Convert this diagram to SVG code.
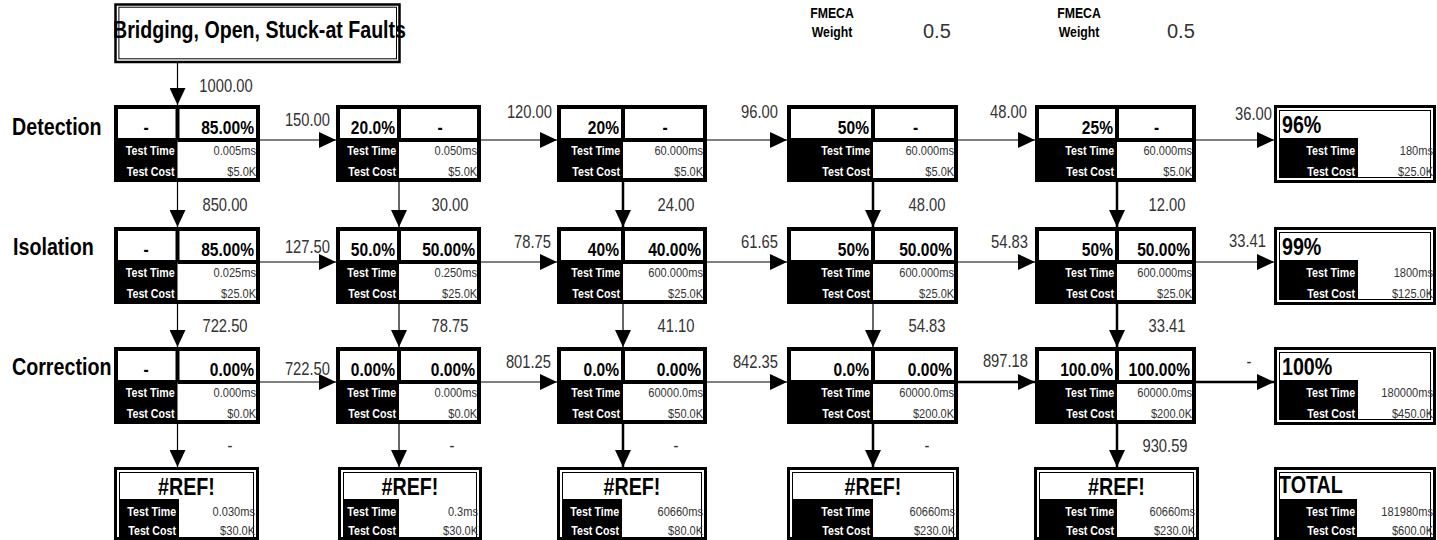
<svg xmlns="http://www.w3.org/2000/svg" width="1437" height="540" viewBox="0 0 1437 540">
<style>
text{font-family:"Liberation Sans",Arial,sans-serif;transform:scaleX(.82);transform-box:fill-box}
.s{text-anchor:start;transform-origin:left center}
.e{text-anchor:end;transform-origin:right center}
.m{text-anchor:middle;transform-origin:center}
.h{font-size:19px;font-weight:bold;fill:#000}
.lb{font-size:13px;font-weight:bold;fill:#fff}
.v{font-size:13.5px;fill:#333}
.cl{font-size:18px;fill:#333}
.big{font-size:24px;font-weight:bold;fill:#000}
.fw{font-size:15px;font-weight:bold;fill:#000}
.box{fill:#fff;stroke:#000;stroke-width:4}
.dv{stroke:#000;stroke-width:4}
.o{fill:#fff;stroke:#000;stroke-width:3}
.i{fill:none;stroke:#000;stroke-width:1}
.c{fill:none;stroke:#000;stroke-width:1.2;marker-end:url(#ah)}
.k{stroke-width:2.5}
</style>
<defs>
<marker id="ah" markerUnits="userSpaceOnUse" markerWidth="18" markerHeight="16" refX="17" refY="8" orient="auto"><path d="M0,0 L17,8 L0,16 z" fill="#000"/></marker>
</defs>
<rect width="1437" height="540" fill="#fff"/>

<g id="labels">
<text class="big s" x="12" y="135">Detection</text>
<text class="big s" x="13" y="255">Isolation</text>
<text class="big s" x="12" y="375">Correction</text>
<text class="fw m" x="832" y="18">FMECA</text>
<text class="fw m" x="832" y="37">Weight</text>
<text x="923" y="38" style="font-size:20px;fill:#333;transform:none">0.5</text>
<text class="fw m" x="1079" y="18">FMECA</text>
<text class="fw m" x="1079" y="37">Weight</text>
<text x="1167" y="38" style="font-size:20px;fill:#333;transform:none">0.5</text>
</g>

<g id="title">
<rect x="115.5" y="4.5" width="284" height="57.5" fill="#fff" stroke="#000" stroke-width="2.5"/>
<rect x="118.9" y="7.2" width="277.6" height="51.6" fill="none" stroke="#000" stroke-width="1"/>
<text x="113" y="37.5" textLength="293" lengthAdjust="spacingAndGlyphs" style="font-size:24px;font-weight:bold;transform:none">Bridging, Open, Stuck-at Faults</text>
</g>

<g id="connectors">
<line class="c" x1="177.5" y1="63" x2="177.5" y2="105"/>
<line class="c" x1="177.5" y1="182" x2="177.5" y2="227"/>
<line class="c" x1="399" y1="182" x2="399" y2="227"/>
<line class="c k" x1="623" y1="182" x2="623" y2="227"/>
<line class="c k" x1="873" y1="182" x2="873" y2="227"/>
<line class="c k" x1="1117" y1="182" x2="1117" y2="227"/>
<line class="c" x1="177.5" y1="304" x2="177.5" y2="347"/>
<line class="c" x1="399" y1="304" x2="399" y2="347"/>
<line class="c" x1="623" y1="304" x2="623" y2="347"/>
<line class="c" x1="873" y1="304" x2="873" y2="347"/>
<line class="c k" x1="1117" y1="304" x2="1117" y2="347"/>
<line class="c" x1="177.5" y1="424" x2="177.5" y2="467"/>
<line class="c" x1="399" y1="424" x2="399" y2="467"/>
<line class="c k" x1="623" y1="424" x2="623" y2="467"/>
<line class="c k" x1="873" y1="424" x2="873" y2="467"/>
<line class="c k" x1="1117" y1="424" x2="1117" y2="467"/>
<line class="c" x1="260" y1="140" x2="336" y2="140"/>
<line class="c" x1="481" y1="140" x2="557" y2="140"/>
<line class="c" x1="707" y1="140" x2="787" y2="140"/>
<line class="c" x1="958" y1="140" x2="1035" y2="140"/>
<line class="c" x1="1196" y1="140" x2="1274" y2="140"/>
<line class="c" x1="260" y1="262" x2="336" y2="262"/>
<line class="c" x1="481" y1="262" x2="557" y2="262"/>
<line class="c" x1="707" y1="262" x2="787" y2="262"/>
<line class="c" x1="958" y1="262" x2="1035" y2="262"/>
<line class="c" x1="1196" y1="262" x2="1274" y2="262"/>
<line class="c" x1="260" y1="382" x2="336" y2="382"/>
<line class="c" x1="481" y1="382" x2="557" y2="382"/>
<line class="c" x1="707" y1="382" x2="787" y2="382"/>
<line class="c k" x1="958" y1="382" x2="1035" y2="382"/>
<line class="c k" x1="1196" y1="382" x2="1274" y2="382"/>
<text class="cl m" x="226" y="92">1000.00</text>
<text class="cl m" x="225" y="211">850.00</text>
<text class="cl m" x="450" y="211">30.00</text>
<text class="cl m" x="676" y="211">24.00</text>
<text class="cl m" x="927" y="211">48.00</text>
<text class="cl m" x="1167" y="211">12.00</text>
<text class="cl m" x="225" y="332">722.50</text>
<text class="cl m" x="450" y="332">78.75</text>
<text class="cl m" x="676" y="332">41.10</text>
<text class="cl m" x="927" y="332">54.83</text>
<text class="cl m" x="1167" y="332">33.41</text>
<text class="cl m" x="230" y="452">-</text>
<text class="cl m" x="452" y="452">-</text>
<text class="cl m" x="676" y="452">-</text>
<text class="cl m" x="927" y="452">-</text>
<text class="cl m" x="1165" y="452">930.59</text>
<text class="cl e" x="330" y="126">150.00</text>
<text class="cl e" x="552" y="118">120.00</text>
<text class="cl e" x="778" y="118">96.00</text>
<text class="cl e" x="1027" y="118">48.00</text>
<text class="cl e" x="1272" y="120">36.00</text>
<text class="cl e" x="330" y="253">127.50</text>
<text class="cl e" x="551" y="248">78.75</text>
<text class="cl e" x="778" y="248">61.65</text>
<text class="cl e" x="1028" y="248">54.83</text>
<text class="cl e" x="1266" y="247">33.41</text>
<text class="cl e" x="330" y="375">722.50</text>
<text class="cl e" x="551" y="368">801.25</text>
<text class="cl e" x="778" y="368">842.35</text>
<text class="cl e" x="1028" y="367">897.18</text>
<text class="cl m" x="1249" y="368">-</text>
</g>

<!-- Detection row -->
<g id="det1">
<rect class="box" x="116" y="107" width="142" height="73"/>
<rect x="114" y="138" width="63.5" height="44"/>
<line class="dv" x1="177.5" y1="105" x2="177.5" y2="140"/><line class="dv" x1="177.5" y1="140" x2="260" y2="140"/>
<text class="h m" x="146" y="134">-</text><text class="h e" x="254" y="134">85.00%</text>
<text class="lb e" x="174.5" y="155">Test Time</text><text class="lb e" x="174.5" y="176">Test Cost</text>
<text class="v e" x="256" y="155">0.005ms</text><text class="v e" x="256" y="176">$5.0K</text>
</g>
<g id="det2">
<rect class="box" x="338" y="107" width="141" height="73"/>
<rect x="336" y="138" width="63" height="44"/>
<line class="dv" x1="399" y1="105" x2="399" y2="140"/><line class="dv" x1="399" y1="140" x2="481" y2="140"/>
<text class="h e" x="395" y="134">20.0%</text><text class="h m" x="440" y="134">-</text>
<text class="lb e" x="396" y="155">Test Time</text><text class="lb e" x="396" y="176">Test Cost</text>
<text class="v e" x="477" y="155">0.050ms</text><text class="v e" x="477" y="176">$5.0K</text>
</g>
<g id="det3">
<rect class="box" x="559" y="107" width="146" height="73"/>
<rect x="557" y="138" width="66" height="44"/>
<line class="dv" x1="623" y1="105" x2="623" y2="140"/><line class="dv" x1="623" y1="140" x2="707" y2="140"/>
<text class="h e" x="619" y="134">20%</text><text class="h m" x="665" y="134">-</text>
<text class="lb e" x="620" y="155">Test Time</text><text class="lb e" x="620" y="176">Test Cost</text>
<text class="v e" x="703" y="155">60.000ms</text><text class="v e" x="703" y="176">$5.0K</text>
</g>
<g id="det4">
<rect class="box" x="789" y="107" width="167" height="73"/>
<rect x="787" y="138" width="86" height="44"/>
<line class="dv" x1="873" y1="105" x2="873" y2="140"/><line class="dv" x1="873" y1="140" x2="958" y2="140"/>
<text class="h e" x="869" y="134">50%</text><text class="h m" x="915.5" y="134">-</text>
<text class="lb e" x="870" y="155">Test Time</text><text class="lb e" x="870" y="176">Test Cost</text>
<text class="v e" x="954" y="155">60.000ms</text><text class="v e" x="954" y="176">$5.0K</text>
</g>
<g id="det5">
<rect class="box" x="1037" y="107" width="157" height="73"/>
<rect x="1035" y="138" width="82" height="44"/>
<line class="dv" x1="1117" y1="105" x2="1117" y2="140"/><line class="dv" x1="1117" y1="140" x2="1196" y2="140"/>
<text class="h e" x="1113" y="134">25%</text><text class="h m" x="1156.5" y="134">-</text>
<text class="lb e" x="1114" y="155">Test Time</text><text class="lb e" x="1114" y="176">Test Cost</text>
<text class="v e" x="1192" y="155">60.000ms</text><text class="v e" x="1192" y="176">$5.0K</text>
</g>
<g id="detSum">
<rect class="o" x="1275.5" y="106.5" width="159" height="75"/>
<rect class="i" x="1279.5" y="110.5" width="151" height="67"/>
<rect x="1280" y="138" width="78" height="40"/>
<text class="big s" x="1282" y="133">96%</text>
<text class="lb e" x="1355" y="155">Test Time</text><text class="lb e" x="1355" y="176">Test Cost</text>
<text class="v e" x="1433" y="155">180ms</text><text class="v e" x="1433" y="176">$25.0K</text>
</g>

<!-- Isolation row -->
<g id="iso1">
<rect class="box" x="116" y="229" width="142" height="73"/>
<rect x="114" y="260" width="63.5" height="44"/>
<line class="dv" x1="177.5" y1="227" x2="177.5" y2="262"/><line class="dv" x1="177.5" y1="262" x2="260" y2="262"/>
<text class="h m" x="146" y="256">-</text><text class="h e" x="254" y="256">85.00%</text>
<text class="lb e" x="174.5" y="277">Test Time</text><text class="lb e" x="174.5" y="298">Test Cost</text>
<text class="v e" x="256" y="277">0.025ms</text><text class="v e" x="256" y="298">$25.0K</text>
</g>
<g id="iso2">
<rect class="box" x="338" y="229" width="141" height="73"/>
<rect x="336" y="260" width="63" height="44"/>
<line class="dv" x1="399" y1="227" x2="399" y2="262"/><line class="dv" x1="399" y1="262" x2="481" y2="262"/>
<text class="h e" x="395" y="256">50.0%</text><text class="h e" x="475" y="256">50.00%</text>
<text class="lb e" x="396" y="277">Test Time</text><text class="lb e" x="396" y="298">Test Cost</text>
<text class="v e" x="477" y="277">0.250ms</text><text class="v e" x="477" y="298">$25.0K</text>
</g>
<g id="iso3">
<rect class="box" x="559" y="229" width="146" height="73"/>
<rect x="557" y="260" width="66" height="44"/>
<line class="dv" x1="623" y1="227" x2="623" y2="262"/><line class="dv" x1="623" y1="262" x2="707" y2="262"/>
<text class="h e" x="619" y="256">40%</text><text class="h e" x="701" y="256">40.00%</text>
<text class="lb e" x="620" y="277">Test Time</text><text class="lb e" x="620" y="298">Test Cost</text>
<text class="v e" x="703" y="277">600.000ms</text><text class="v e" x="703" y="298">$25.0K</text>
</g>
<g id="iso4">
<rect class="box" x="789" y="229" width="167" height="73"/>
<rect x="787" y="260" width="86" height="44"/>
<line class="dv" x1="873" y1="227" x2="873" y2="262"/><line class="dv" x1="873" y1="262" x2="958" y2="262"/>
<text class="h e" x="869" y="256">50%</text><text class="h e" x="952" y="256">50.00%</text>
<text class="lb e" x="870" y="277">Test Time</text><text class="lb e" x="870" y="298">Test Cost</text>
<text class="v e" x="954" y="277">600.000ms</text><text class="v e" x="954" y="298">$25.0K</text>
</g>
<g id="iso5">
<rect class="box" x="1037" y="229" width="157" height="73"/>
<rect x="1035" y="260" width="82" height="44"/>
<line class="dv" x1="1117" y1="227" x2="1117" y2="262"/><line class="dv" x1="1117" y1="262" x2="1196" y2="262"/>
<text class="h e" x="1113" y="256">50%</text><text class="h e" x="1190" y="256">50.00%</text>
<text class="lb e" x="1114" y="277">Test Time</text><text class="lb e" x="1114" y="298">Test Cost</text>
<text class="v e" x="1192" y="277">600.000ms</text><text class="v e" x="1192" y="298">$25.0K</text>
</g>
<g id="isoSum">
<rect class="o" x="1275.5" y="228.5" width="159" height="75"/>
<rect class="i" x="1279.5" y="232.5" width="151" height="67"/>
<rect x="1280" y="260" width="78" height="40"/>
<text class="big s" x="1282" y="255">99%</text>
<text class="lb e" x="1355" y="277">Test Time</text><text class="lb e" x="1355" y="298">Test Cost</text>
<text class="v e" x="1433" y="277">1800ms</text><text class="v e" x="1433" y="298">$125.0K</text>
</g>

<!-- Correction row -->
<g id="cor1">
<rect class="box" x="116" y="349" width="142" height="73"/>
<rect x="114" y="380" width="63.5" height="44"/>
<line class="dv" x1="177.5" y1="347" x2="177.5" y2="382"/><line class="dv" x1="177.5" y1="382" x2="260" y2="382"/>
<text class="h m" x="146" y="376">-</text><text class="h e" x="254" y="376">0.00%</text>
<text class="lb e" x="174.5" y="397">Test Time</text><text class="lb e" x="174.5" y="418">Test Cost</text>
<text class="v e" x="256" y="397">0.000ms</text><text class="v e" x="256" y="418">$0.0K</text>
</g>
<g id="cor2">
<rect class="box" x="338" y="349" width="141" height="73"/>
<rect x="336" y="380" width="63" height="44"/>
<line class="dv" x1="399" y1="347" x2="399" y2="382"/><line class="dv" x1="399" y1="382" x2="481" y2="382"/>
<text class="h e" x="395" y="376">0.00%</text><text class="h e" x="475" y="376">0.00%</text>
<text class="lb e" x="396" y="397">Test Time</text><text class="lb e" x="396" y="418">Test Cost</text>
<text class="v e" x="477" y="397">0.000ms</text><text class="v e" x="477" y="418">$0.0K</text>
</g>
<g id="cor3">
<rect class="box" x="559" y="349" width="146" height="73"/>
<rect x="557" y="380" width="66" height="44"/>
<line class="dv" x1="623" y1="347" x2="623" y2="382"/><line class="dv" x1="623" y1="382" x2="707" y2="382"/>
<text class="h e" x="619" y="376">0.0%</text><text class="h e" x="701" y="376">0.00%</text>
<text class="lb e" x="620" y="397">Test Time</text><text class="lb e" x="620" y="418">Test Cost</text>
<text class="v e" x="703" y="397">60000.0ms</text><text class="v e" x="703" y="418">$50.0K</text>
</g>
<g id="cor4">
<rect class="box" x="789" y="349" width="167" height="73"/>
<rect x="787" y="380" width="86" height="44"/>
<line class="dv" x1="873" y1="347" x2="873" y2="382"/><line class="dv" x1="873" y1="382" x2="958" y2="382"/>
<text class="h e" x="869" y="376">0.0%</text><text class="h e" x="952" y="376">0.00%</text>
<text class="lb e" x="870" y="397">Test Time</text><text class="lb e" x="870" y="418">Test Cost</text>
<text class="v e" x="954" y="397">60000.0ms</text><text class="v e" x="954" y="418">$200.0K</text>
</g>
<g id="cor5">
<rect class="box" x="1037" y="349" width="157" height="73"/>
<rect x="1035" y="380" width="82" height="44"/>
<line class="dv" x1="1117" y1="347" x2="1117" y2="382"/><line class="dv" x1="1117" y1="382" x2="1196" y2="382"/>
<text class="h e" x="1113" y="376">100.0%</text><text class="h e" x="1190" y="376">100.00%</text>
<text class="lb e" x="1114" y="397">Test Time</text><text class="lb e" x="1114" y="418">Test Cost</text>
<text class="v e" x="1192" y="397">60000.0ms</text><text class="v e" x="1192" y="418">$200.0K</text>
</g>
<g id="corSum">
<rect class="o" x="1275.5" y="348.5" width="159" height="75"/>
<rect class="i" x="1279.5" y="352.5" width="151" height="67"/>
<rect x="1280" y="380" width="78" height="40"/>
<text class="big s" x="1282" y="375">100%</text>
<text class="lb e" x="1355" y="397">Test Time</text><text class="lb e" x="1355" y="418">Test Cost</text>
<text class="v e" x="1433" y="397">180000ms</text><text class="v e" x="1433" y="418">$450.0K</text>
</g>

<!-- Total row -->
<g id="tot1">
<rect class="o" x="115.5" y="468.5" width="142" height="70"/>
<rect class="i" x="119.5" y="472.5" width="134" height="75"/>
<rect x="120" y="499" width="59" height="41"/>
<text class="big m" x="186.5" y="495">#REF!</text>
<text class="lb e" x="176" y="516">Test Time</text><text class="lb e" x="176" y="535">Test Cost</text>
<text class="v e" x="255" y="516">0.030ms</text><text class="v e" x="255" y="535">$30.0K</text>
</g>
<g id="tot2">
<rect class="o" x="339.5" y="468.5" width="141" height="70"/>
<rect class="i" x="343.5" y="472.5" width="133" height="75"/>
<rect x="344" y="499" width="55" height="41"/>
<text class="big m" x="410" y="495">#REF!</text>
<text class="lb e" x="396" y="516">Test Time</text><text class="lb e" x="396" y="535">Test Cost</text>
<text class="v e" x="478" y="516">0.3ms</text><text class="v e" x="478" y="535">$30.0K</text>
</g>
<g id="tot3">
<rect class="o" x="558.5" y="468.5" width="147" height="70"/>
<rect class="i" x="562.5" y="472.5" width="139" height="75"/>
<rect x="563" y="499" width="59" height="41"/>
<text class="big m" x="632" y="495">#REF!</text>
<text class="lb e" x="619" y="516">Test Time</text><text class="lb e" x="619" y="535">Test Cost</text>
<text class="v e" x="703" y="516">60660ms</text><text class="v e" x="703" y="535">$80.0K</text>
</g>
<g id="tot4">
<rect class="o" x="788.5" y="468.5" width="169" height="70"/>
<rect class="i" x="792.5" y="472.5" width="161" height="75"/>
<rect x="793" y="499" width="80" height="41"/>
<text class="big m" x="873" y="495">#REF!</text>
<text class="lb e" x="870" y="516">Test Time</text><text class="lb e" x="870" y="535">Test Cost</text>
<text class="v e" x="955" y="516">60660ms</text><text class="v e" x="955" y="535">$230.0K</text>
</g>
<g id="tot5">
<rect class="o" x="1035.5" y="468.5" width="162" height="70"/>
<rect class="i" x="1039.5" y="472.5" width="154" height="75"/>
<rect x="1040" y="499" width="77" height="41"/>
<text class="big m" x="1116.5" y="495">#REF!</text>
<text class="lb e" x="1114" y="516">Test Time</text><text class="lb e" x="1114" y="535">Test Cost</text>
<text class="v e" x="1195" y="516">60660ms</text><text class="v e" x="1195" y="535">$230.0K</text>
</g>
<g id="totSum">
<rect class="o" x="1275.5" y="468.5" width="159" height="70"/>
<rect class="i" x="1279.5" y="472.5" width="151" height="75"/>
<rect x="1280" y="499" width="77" height="41"/>
<text class="big s" x="1279" y="493">TOTAL</text>
<text class="lb e" x="1355" y="516">Test Time</text><text class="lb e" x="1355" y="535">Test Cost</text>
<text class="v e" x="1433" y="516">181980ms</text><text class="v e" x="1433" y="535">$600.0K</text>
</g>
</svg>
